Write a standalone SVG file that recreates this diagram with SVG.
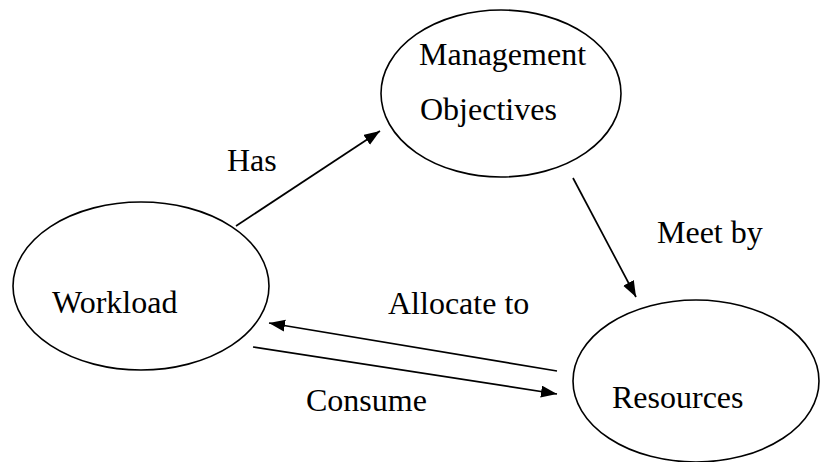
<svg xmlns="http://www.w3.org/2000/svg" width="820" height="462" viewBox="0 0 820 462">
  <defs>
    <style>
      .node { fill: #ffffff; stroke: #000000; stroke-width: 1.6; }
      .label { font-family: "Liberation Serif", "Times New Roman", serif; font-size: 32px; fill: #000000; }
      .edge { fill: none; stroke: #000000; stroke-width: 1.7; }
    </style>
    <marker id="arrow" markerUnits="userSpaceOnUse" markerWidth="18" markerHeight="14" refX="16" refY="6" orient="auto">
      <path d="M0,0 L16,6 L0,12 Z" fill="#000000"/>
    </marker>
  </defs>

  <rect width="820" height="462" fill="#ffffff"/>

  <g id="management-objectives">
    <ellipse class="node" cx="501" cy="93.5" rx="120" ry="83.5"/>
    <text class="label" x="419" y="65">Management</text>
    <text class="label" x="420" y="120">Objectives</text>
  </g>

  <g id="workload">
    <ellipse class="node" cx="141" cy="286" rx="128" ry="84"/>
    <text class="label" x="52" y="313">Workload</text>
  </g>

  <g id="resources">
    <ellipse class="node" cx="696" cy="381" rx="123" ry="81"/>
    <text class="label" x="612" y="408">Resources</text>
  </g>

  <g id="connectors">
    <line class="edge" x1="236" y1="226" x2="380" y2="131" marker-end="url(#arrow)"/>
    <line class="edge" x1="573" y1="178" x2="636" y2="297" marker-end="url(#arrow)"/>
    <line class="edge" x1="557" y1="371" x2="269" y2="323" marker-end="url(#arrow)"/>
    <line class="edge" x1="253" y1="347" x2="557" y2="394" marker-end="url(#arrow)"/>
    <text class="label" x="227" y="171">Has</text>
    <text class="label" x="657" y="243">Meet by</text>
    <text class="label" x="388" y="314">Allocate to</text>
    <text class="label" x="306" y="411">Consume</text>
  </g>
</svg>
